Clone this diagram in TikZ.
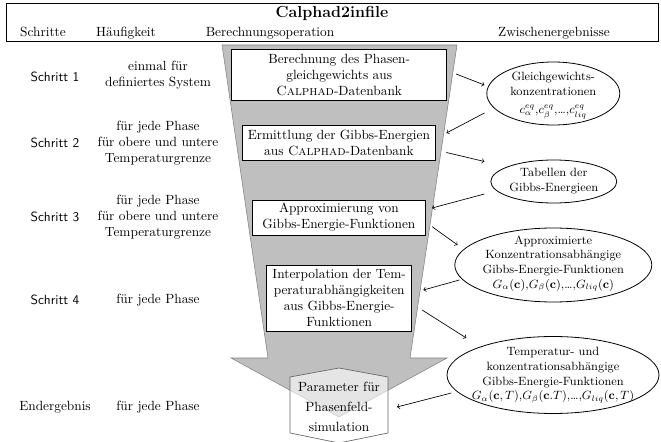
\documentclass[tikz,border=0pt]{standalone}
\usetikzlibrary{shapes.geometric}
\newcommand{\etext}[2][-2pt]{\raisebox{#1}{\smash{\makebox[0pt]{\begin{tabular}{@{}c@{}}#2\end{tabular}}}}}
\begin{document}
\begin{tikzpicture}[x=0.75pt,y=-0.75pt,
  opbox/.style={draw, line width=0.6pt, fill=white, align=center, inner sep=1pt},
  res/.style={ellipse, draw, line width=0.6pt, inner sep=0pt, font=\small},
  conn/.style={->, line width=0.5pt},
  funnel/.style={fill=black!25, draw=black!50, line width=0.4pt},
  hexa/.style={fill=white, fill opacity=0.6, draw=black!60, line width=0.5pt},
  colhead/.style={anchor=base},
  lefttext/.style={align=center}]
\useasboundingbox (0,0) rectangle (661,442);
\clip (0,0) rectangle (661,442);

% header
\node[draw, line width=0.6pt, minimum width=489pt, minimum height=28.5pt, inner sep=0pt] (header) at (332,22) {};
\node[font=\large\bfseries] (title) at (332,13) {Calphad2infile};
\node[colhead] (h1) at (43,37) {Schritte};
\node[colhead] (h2) at (126,37) {Häufigkeit};
\node[colhead] (h3) at (270,37) {Berechnungsoperation};
\node[colhead] (h4) at (554,37) {Zwischenergebnisse};

% funnel
\draw[funnel] (222,45) -- (457,45) -- (410,358) -- (447,358) -- (339,417) -- (231,358) -- (268,358) -- cycle;

% hexagon
\coordinate (x1) at (339,368);
\coordinate (x2) at (388,377);
\coordinate (x3) at (388,433);
\coordinate (x4) at (339,443);
\coordinate (x5) at (290,433);
\coordinate (x6) at (290,377);
\draw[hexa] (x1) -- (x2) -- (x3) -- (x4) -- (x5) -- (x6) -- cycle;
\node[align=center, minimum width=73.5pt, minimum height=42pt, inner sep=0pt] (final) at (339,407) {Parameter für\\[3pt]Phasenfeld-\\[3pt]simulation};

% operation boxes
\node[opbox, minimum width=161.25pt, minimum height=38pt] (b1) at (339.2,74.7) {Berechnung des Phasen-\\gleichgewichts aus\\\textsc{Calphad}-Datenbank};
\node[opbox, minimum width=144.2pt, minimum height=26.25pt] (b2) at (338.9,142.5) {Ermittlung der Gibbs-Energien\\aus \textsc{Calphad}-Datenbank};
\node[opbox, minimum width=129.2pt, minimum height=26.25pt] (b3) at (338.9,217.5) {Approximierung von\\Gibbs-Energie-Funktionen};
\node[opbox, minimum width=108.75pt, minimum height=50pt] (b4) at (339.2,298.3) {Interpolation der Tem-\\peraturabhängigkeiten\\aus Gibbs-Energie-\\Funktionen};

% result ellipses
\node[res, minimum width=99.75pt, minimum height=47.25pt] (e1) at (553.3,93.5) {\etext[-6pt]{Gleichgewichts-\\konzentrationen\\[3pt]$c_\alpha^{eq}$,$c_\beta^{eq}$,\ldots,$c_{liq}^{eq}$}};
\node[res, minimum width=94.5pt, minimum height=32.25pt] (e2) at (553.8,181.5) {\etext[-4pt]{Tabellen der\\Gibbs-Energieen}};
\node[res, minimum width=147.75pt, minimum height=55.5pt] (e3) at (553.3,265) {\etext[-2pt]{Approximierte\\Konzentrationsabhängige\\Gibbs-Energie-Funktionen\\$G_\alpha(\mathbf{c})$,$G_\beta(\mathbf{c})$,\ldots,$G_{liq}(\mathbf{c})$}};
\node[res, minimum width=159pt, minimum height=57.75pt] (e4) at (553,375) {\etext[-4.5pt]{Temperatur- und\\konzentrationsabhängige\\Gibbs-Energie-Funktionen\\$G_\alpha(\mathbf{c},T)$,$G_\beta(\mathbf{c}.T)$,\ldots,$G_{liq}(\mathbf{c},T)$}};

% left columns
\node[font=\sffamily] (s1) at (55,77) {Schritt 1};
\node[lefttext] (f1) at (158,75) {einmal für\\definiertes System};
\node[font=\sffamily] (s2) at (55,143) {Schritt 2};
\node[lefttext] (f2) at (158,143) {für jede Phase\\für obere und untere\\Temperaturgrenze};
\node[font=\sffamily] (s3) at (55,217) {Schritt 3};
\node[lefttext] (f3) at (158,217) {für jede Phase\\für obere und untere\\Temperaturgrenze};
\node[font=\sffamily] (s4) at (55,300) {Schritt 4};
\node[lefttext] (f4) at (158,300) {für jede Phase};
\node (s5) at (55,407) {Endergebnis};
\node[lefttext] (f5) at (158,407) {für jede Phase};

% connectors
\draw[conn] ([shift={(9,-0.7)}]b1.east) -- ([shift={(-2,-8.5)}]e1.west);
\draw[conn] ([shift={(-2,19.5)}]e1.west) -- ([shift={(11,-9.5)}]b2.east);
\draw[conn] ([shift={(11,10)}]b2.east) -- ([shift={(-6,-20)}]e2.west);
\draw[conn] ([shift={(-6,12.5)}]e2.west) -- ([shift={(6.7,-9.5)}]b3.east);
\draw[conn] ([shift={(6.7,9.2)}]b3.east) -- ([shift={(3.2,-20)}]e3.west);
\draw[conn] ([shift={(5,15)}]e3.west) -- ([shift={(11.3,-8.3)}]b4.east);
\draw[conn] ([shift={(10,11.7)}]b4.east) -- ([shift={(19.7,-37)}]e4.west);
\draw[conn] ([shift={(4.7,18)}]e4.west) -- ([shift={(8.7,0)}]final.east);
\end{tikzpicture}
\end{document}
